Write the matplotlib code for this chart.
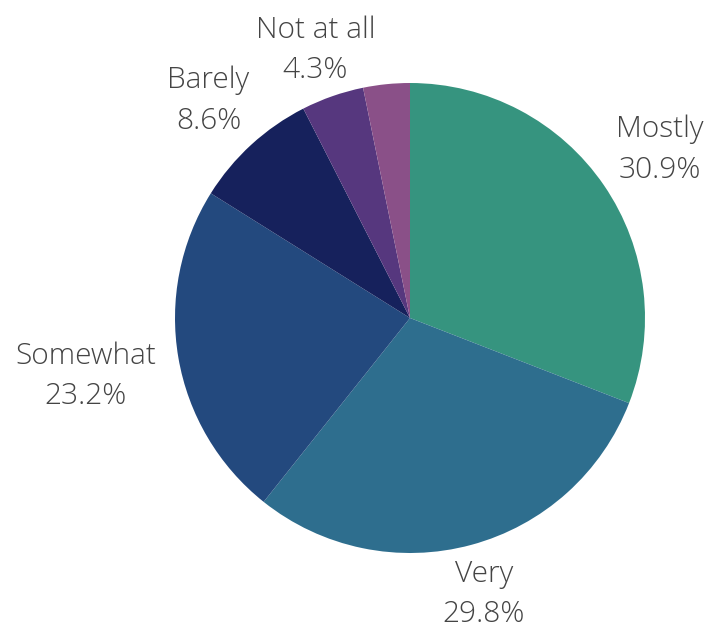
import numpy as np
import matplotlib
matplotlib.use("Agg")
import matplotlib.pyplot as plt

# Survey answers, clockwise from 12 o'clock
categories = ["Mostly", "Very", "Somewhat", "Barely", "Not at all", ""]
shares = [30.9, 29.8, 23.2, 8.6, 4.3, 3.2]
colors = ["#36947f", "#2e6e8e", "#23497e", "#16215c", "#56377e", "#8a5088"]
# radial placement of each label, in pie radii
label_radius = [1.29, 1.205, 1.40, 1.27, 1.22, 1.2]

W, H = 717, 631
fig = plt.figure(figsize=(W / 100, H / 100), dpi=100)
cx, cy, r = 410, 631 - 318, 235
ax = fig.add_axes([(cx - r) / W, (cy - r) / H, 2 * r / W, 2 * r / H])

wedges, _ = ax.pie(shares, colors=colors, startangle=90, counterclock=False,
                   radius=1, center=(0, 0), frame=True,
                   wedgeprops=dict(linewidth=0))
ax.set_xlim(-1, 1)
ax.set_ylim(-1, 1)
ax.axis("off")

for w, name, val, lr in zip(wedges, categories, shares, label_radius):
    if not name:
        continue
    ang = np.deg2rad((w.theta1 + w.theta2) / 2)
    ax.text(lr * np.cos(ang), lr * np.sin(ang) - 0.012, f"{name}\n{val:.1f}%",
            ha="center", va="center", fontsize=21.5, color="#444444",
            family="Open Sans", fontweight="light", linespacing=1.5,
            clip_on=False)

fig.savefig("out.png", dpi=100, facecolor="white")
